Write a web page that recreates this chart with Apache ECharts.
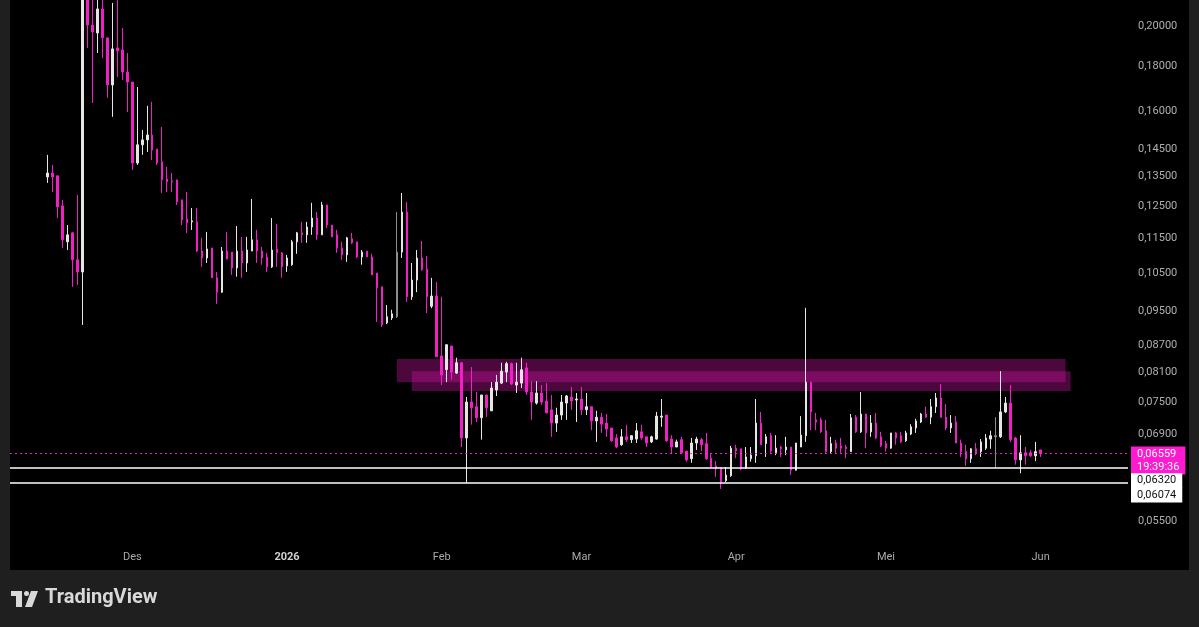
<!DOCTYPE html>
<html>
<head>
<meta charset="utf-8">
<title>Harian</title>
<script src="https://cdn.jsdelivr.net/npm/echarts@6/dist/echarts.min.js"></script>
<style>
  html, body { margin: 0; padding: 0; background: #1f1f1f; }
  #chart { width: 1199px; height: 627px; }
</style>
</head>
<body>
<div id="chart"></div>
<script>
// axis runs day by day, a week of empty space before the first candle
const axisStart = '2025-11-07'
const axisDays = 224
const firstCandle = '2025-11-14'

// [open, close, low, high], one per day from firstCandle
const candles = [
  [0.1349, 0.1363, 0.1328, 0.1429], [0.1363, 0.1349, 0.1297, 0.1392], [0.1353, 0.1248, 0.1212, 0.1353],
  [0.1251, 0.1145, 0.1121, 0.1271], [0.1139, 0.1160, 0.1115, 0.1190], [0.1166, 0.1087, 0.1013, 0.1169],
  [0.1087, 0.1053, 0.1018, 0.1287], [0.1053, 0.2160, 0.0917, 0.2255], [0.2150, 0.2005, 0.1889, 0.2226],
  [0.2005, 0.1969, 0.1636, 0.2169], [0.1964, 0.2091, 0.1864, 0.2169], [0.2091, 0.1939, 0.1840, 0.2140],
  [0.1939, 0.1715, 0.1658, 0.1939], [0.1715, 0.1884, 0.1578, 0.2124], [0.1889, 0.1874, 0.1751, 0.2140],
  [0.1879, 0.1774, 0.1737, 0.1990], [0.1774, 0.1728, 0.1598, 0.1864],
  // des
  [0.1728, 0.1399, 0.1374, 0.1728], [0.1399, 0.1467, 0.1392, 0.1706], [0.1467, 0.1486, 0.1429, 0.1525],
  [0.1486, 0.1505, 0.1440, 0.1624], [0.1505, 0.1447, 0.1410, 0.1641], [0.1451, 0.1399, 0.1392, 0.1451],
  [0.1403, 0.1339, 0.1294, 0.1537], [0.1342, 0.1332, 0.1297, 0.1385], [0.1335, 0.1332, 0.1297, 0.1363],
  [0.1339, 0.1264, 0.1254, 0.1339], [0.1271, 0.1206, 0.1190, 0.1271], [0.1209, 0.1197, 0.1166, 0.1297],
  [0.1200, 0.1203, 0.1175, 0.1244], [0.1200, 0.1112, 0.1109, 0.1244], [0.1112, 0.1092, 0.1067, 0.1151],
  [0.1092, 0.1118, 0.1078, 0.1169], [0.1121, 0.1037, 0.1037, 0.1121], [0.1037, 0.0999, 0.0969, 0.1053],
  [0.0999, 0.1112, 0.0997, 0.1124], [0.1112, 0.1089, 0.1089, 0.1169], [0.1109, 0.1064, 0.1045, 0.1109],
  [0.1064, 0.1112, 0.1040, 0.1187], [0.1112, 0.1078, 0.1037, 0.1154], [0.1078, 0.1115, 0.1053, 0.1154],
  [0.1112, 0.1145, 0.1112, 0.1274], [0.1145, 0.1112, 0.1078, 0.1175], [0.1112, 0.1092, 0.1073, 0.1124],
  [0.1095, 0.1067, 0.1053, 0.1107], [0.1067, 0.1115, 0.1064, 0.1212], [0.1118, 0.1107, 0.1067, 0.1194],
  [0.1107, 0.1067, 0.1037, 0.1109],
  // jan
  [0.1070, 0.1092, 0.1053, 0.1101], [0.1073, 0.1139, 0.1070, 0.1145], [0.1139, 0.1166, 0.1104, 0.1169],
  [0.1166, 0.1160, 0.1136, 0.1200], [0.1160, 0.1184, 0.1136, 0.1200], [0.1184, 0.1212, 0.1160, 0.1261],
  [0.1212, 0.1160, 0.1145, 0.1231], [0.1160, 0.1254, 0.1160, 0.1264], [0.1254, 0.1190, 0.1181, 0.1254],
  [0.1190, 0.1154, 0.1154, 0.1190], [0.1160, 0.1121, 0.1107, 0.1175], [0.1121, 0.1101, 0.1087, 0.1139],
  [0.1101, 0.1151, 0.1081, 0.1154], [0.1148, 0.1136, 0.1133, 0.1166], [0.1139, 0.1095, 0.1092, 0.1139],
  [0.1095, 0.1109, 0.1073, 0.1115], [0.1112, 0.1095, 0.1095, 0.1112], [0.1095, 0.1045, 0.1045, 0.1104],
  [0.1050, 0.1010, 0.0924, 0.1050], [0.1013, 0.0917, 0.0912, 0.1013], [0.0922, 0.0937, 0.0919, 0.0966],
  [0.0934, 0.0944, 0.0929, 0.0954], [0.0937, 0.1109, 0.0934, 0.1231], [0.1109, 0.1231, 0.1092, 0.1294],
  [0.1231, 0.0987, 0.0974, 0.1264], [0.0987, 0.1031, 0.0979, 0.1078], [0.1031, 0.1092, 0.0999, 0.1115],
  [0.1092, 0.1059, 0.1056, 0.1142], [0.1061, 0.0987, 0.0946, 0.1098], [0.0963, 0.0989, 0.0958, 0.1037],
  [0.0989, 0.0844, 0.0844, 0.1026],
  // feb
  [0.0846, 0.0805, 0.0784, 0.0987], [0.0816, 0.0871, 0.0790, 0.0871], [0.0868, 0.0811, 0.0795, 0.0868],
  [0.0809, 0.0831, 0.0807, 0.0842], [0.0831, 0.0683, 0.0667, 0.0831], [0.0683, 0.0750, 0.0607, 0.0760],
  [0.0750, 0.0739, 0.0707, 0.0822], [0.0741, 0.0720, 0.0712, 0.0770], [0.0720, 0.0764, 0.0680, 0.0764],
  [0.0764, 0.0739, 0.0721, 0.0764], [0.0733, 0.0778, 0.0733, 0.0790], [0.0774, 0.0790, 0.0762, 0.0805],
  [0.0788, 0.0813, 0.0786, 0.0831], [0.0811, 0.0829, 0.0790, 0.0833], [0.0829, 0.0786, 0.0784, 0.0831],
  [0.0784, 0.0790, 0.0768, 0.0831], [0.0788, 0.0816, 0.0778, 0.0842], [0.0820, 0.0770, 0.0764, 0.0831],
  [0.0770, 0.0750, 0.0716, 0.0792], [0.0748, 0.0768, 0.0745, 0.0792], [0.0768, 0.0750, 0.0745, 0.0784],
  [0.0752, 0.0729, 0.0729, 0.0788], [0.0735, 0.0710, 0.0685, 0.0764], [0.0710, 0.0725, 0.0694, 0.0739],
  [0.0725, 0.0750, 0.0716, 0.0764], [0.0748, 0.0762, 0.0716, 0.0764], [0.0760, 0.0752, 0.0735, 0.0780],
  [0.0754, 0.0756, 0.0712, 0.0768],
  // mar
  [0.0756, 0.0735, 0.0725, 0.0780], [0.0735, 0.0741, 0.0725, 0.0768], [0.0741, 0.0714, 0.0697, 0.0741],
  [0.0714, 0.0721, 0.0676, 0.0733], [0.0721, 0.0708, 0.0692, 0.0729], [0.0710, 0.0699, 0.0685, 0.0727],
  [0.0701, 0.0678, 0.0676, 0.0701], [0.0683, 0.0667, 0.0665, 0.0690], [0.0671, 0.0685, 0.0669, 0.0699],
  [0.0685, 0.0680, 0.0676, 0.0707], [0.0680, 0.0687, 0.0674, 0.0688], [0.0681, 0.0696, 0.0674, 0.0710],
  [0.0694, 0.0683, 0.0680, 0.0707], [0.0685, 0.0674, 0.0667, 0.0685], [0.0676, 0.0685, 0.0674, 0.0687],
  [0.0681, 0.0723, 0.0680, 0.0731], [0.0721, 0.0723, 0.0703, 0.0756], [0.0725, 0.0678, 0.0676, 0.0725],
  [0.0681, 0.0667, 0.0655, 0.0688], [0.0667, 0.0676, 0.0667, 0.0680], [0.0680, 0.0657, 0.0657, 0.0685],
  [0.0660, 0.0645, 0.0642, 0.0660], [0.0647, 0.0674, 0.0640, 0.0683], [0.0674, 0.0681, 0.0662, 0.0685],
  [0.0680, 0.0671, 0.0660, 0.0683], [0.0673, 0.0647, 0.0645, 0.0692], [0.0648, 0.0633, 0.0633, 0.0655],
  [0.0635, 0.0630, 0.0617, 0.0643], [0.0632, 0.0609, 0.0598, 0.0632], [0.0611, 0.0620, 0.0609, 0.0633],
  [0.0619, 0.0665, 0.0617, 0.0669],
  // apr
  [0.0665, 0.0660, 0.0648, 0.0671], [0.0664, 0.0630, 0.0628, 0.0664], [0.0632, 0.0650, 0.0630, 0.0667],
  [0.0647, 0.0653, 0.0642, 0.0667], [0.0652, 0.0710, 0.0640, 0.0756], [0.0710, 0.0671, 0.0671, 0.0731],
  [0.0673, 0.0685, 0.0650, 0.0690], [0.0687, 0.0660, 0.0657, 0.0692], [0.0657, 0.0665, 0.0653, 0.0688],
  [0.0667, 0.0664, 0.0650, 0.0669], [0.0662, 0.0667, 0.0653, 0.0685], [0.0667, 0.0628, 0.0620, 0.0667],
  [0.0628, 0.0674, 0.0627, 0.0674], [0.0667, 0.0688, 0.0667, 0.0723], [0.0687, 0.0790, 0.0676, 0.0959],
  [0.0790, 0.0731, 0.0697, 0.0790], [0.0716, 0.0712, 0.0697, 0.0729], [0.0716, 0.0694, 0.0692, 0.0720],
  [0.0696, 0.0659, 0.0657, 0.0716], [0.0659, 0.0673, 0.0655, 0.0685], [0.0674, 0.0665, 0.0655, 0.0680],
  [0.0669, 0.0665, 0.0657, 0.0683], [0.0667, 0.0664, 0.0648, 0.0671], [0.0659, 0.0720, 0.0659, 0.0727],
  [0.0721, 0.0694, 0.0692, 0.0725], [0.0694, 0.0727, 0.0692, 0.0770], [0.0727, 0.0692, 0.0665, 0.0727],
  [0.0694, 0.0710, 0.0685, 0.0725], [0.0710, 0.0683, 0.0681, 0.0729], [0.0685, 0.0669, 0.0667, 0.0694],
  // mei
  [0.0673, 0.0665, 0.0659, 0.0678], [0.0665, 0.0692, 0.0664, 0.0692], [0.0692, 0.0683, 0.0671, 0.0694],
  [0.0687, 0.0676, 0.0674, 0.0694], [0.0678, 0.0692, 0.0676, 0.0696], [0.0690, 0.0703, 0.0688, 0.0708],
  [0.0701, 0.0714, 0.0692, 0.0718], [0.0712, 0.0727, 0.0710, 0.0729], [0.0727, 0.0721, 0.0720, 0.0741],
  [0.0721, 0.0741, 0.0708, 0.0756], [0.0741, 0.0758, 0.0729, 0.0768], [0.0758, 0.0721, 0.0720, 0.0786],
  [0.0721, 0.0701, 0.0697, 0.0746], [0.0701, 0.0710, 0.0692, 0.0725], [0.0712, 0.0674, 0.0674, 0.0723],
  [0.0674, 0.0659, 0.0650, 0.0680], [0.0659, 0.0647, 0.0635, 0.0671], [0.0647, 0.0664, 0.0640, 0.0665],
  [0.0664, 0.0657, 0.0653, 0.0674], [0.0659, 0.0676, 0.0650, 0.0681], [0.0665, 0.0683, 0.0662, 0.0690],
  [0.0681, 0.0687, 0.0664, 0.0696], [0.0685, 0.0687, 0.0632, 0.0721], [0.0685, 0.0731, 0.0683, 0.0813],
  [0.0731, 0.0748, 0.0729, 0.0760], [0.0748, 0.0680, 0.0676, 0.0784], [0.0683, 0.0645, 0.0637, 0.0685],
  [0.0645, 0.0657, 0.0623, 0.0688], [0.0657, 0.0652, 0.0637, 0.0667], [0.0657, 0.0652, 0.0650, 0.0662],
  [0.0652, 0.0659, 0.0643, 0.0676],
  // jun
  [0.0662, 0.06559, 0.0650, 0.0662]
]
// candles drawn in grey instead of white
const greyDays = ['2026-01-23', '2026-05-23']

const tickDates = ['2025-12-01', '2026-01-01', '2026-02-01', '2026-03-01', '2026-04-01', '2026-05-01', '2026-06-01']
const tickNames = ['Des', '2026', 'Feb', 'Mar', 'Apr', 'Mei', 'Jun']
const priceTicks = [0.2, 0.18, 0.16, 0.145, 0.135, 0.125, 0.115, 0.105, 0.095, 0.087, 0.081, 0.075, 0.069, 0.055]

const lastPrice = 0.06559
const countdown = '19:39:36'
const supportLevels = [0.0632, 0.06074]

// two resistance boxes
const zoneFrom = ['2026-01-23', '2026-01-26']
const zoneTo = ['2026-06-06', '2026-06-07']
const zoneTop = [0.0839, 0.0813]
const zoneBottom = [0.0790, 0.0772]

const pink = '#f01fc6'
const white = '#e6e6e6'

function fmt(v) {
  return v.toFixed(5).replace('.', ',')
}

// day list for the category axis
const days = []
const t0 = Date.parse(axisStart + 'T00:00:00Z')
for (let i = 0; i < axisDays; i++) {
  days.push(new Date(t0 + i * 86400000).toISOString().slice(0, 10))
}
const offset = days.indexOf(firstCandle)
const seriesData = days.map((day, i) => {
  const c = candles[i - offset]
  if (!c) return '-'
  if (greyDays.indexOf(day) >= 0) {
    return { value: c, itemStyle: { color: '#8e8e8e', color0: '#8e8e8e', borderColor: '#8e8e8e', borderColor0: '#8e8e8e' } }
  }
  return c
})
const lastDay = days[days.length - 1]

const chart = echarts.init(document.getElementById('chart'))
const option = {
  animation: false,
  backgroundColor: '#000000',
  textStyle: { fontFamily: 'Roboto' },
  graphic: [
    { type: 'rect', left: 0, top: 570, shape: { width: 1199, height: 57 }, style: { fill: '#1f1f1f' } },
    { type: 'rect', left: 0, top: 0, shape: { width: 10, height: 570 }, style: { fill: '#1f1f1f' } },
    { type: 'rect', left: 1189, top: 0, shape: { width: 10, height: 570 }, style: { fill: '#1f1f1f' } },
    // logo
    { type: 'rect', left: 11, top: 591, shape: { width: 11, height: 5 }, style: { fill: '#d9d9d9' } },
    { type: 'rect', left: 16, top: 591, shape: { width: 6, height: 16 }, style: { fill: '#d9d9d9' } },
    { type: 'circle', left: 24, top: 591, shape: { r: 2.5 }, style: { fill: '#d9d9d9' } },
    { type: 'polygon', shape: { points: [[31, 591], [38, 591], [32, 607], [25, 607]] }, style: { fill: '#d9d9d9' } },
    { type: 'text', left: 45, top: 588, style: { text: 'TradingView', fill: '#d9d9d9', font: 'bold 20px Roboto' } }
  ],
  grid: { left: 10, right: 71, top: 0, bottom: 82 },
  xAxis: {
    type: 'category',
    data: days,
    boundaryGap: true,
    axisLine: { show: false },
    axisTick: { show: false },
    splitLine: { show: false },
    axisLabel: {
      margin: 7,
      color: '#a9a9a9',
      fontSize: 11,
      interval: (i, v) => tickDates.indexOf(v) >= 0,
      formatter: v => {
        const name = tickNames[tickDates.indexOf(v)]
        return name === '2026' ? '{b|2026}' : name
      },
      rich: { b: { fontWeight: 'bold', color: '#d0d0d0', fontSize: 11 } }
    }
  },
  yAxis: {
    type: 'log',
    logBase: 10,
    position: 'right',
    min: 0.05166,
    max: 0.21403,
    axisLine: { show: false },
    axisTick: { show: false },
    splitLine: { show: false },
    axisLabel: {
      customValues: priceTicks,
      margin: 10,
      align: 'left',
      color: '#b0b0b0',
      fontSize: 11,
      formatter: v => fmt(v)
    }
  },
  series: [{
    type: 'candlestick',
    data: seriesData,
    barWidth: 2,
    clip: true,
    itemStyle: {
      color: white,
      color0: pink,
      borderColor: white,
      borderColor0: pink,
      borderWidth: 1
    },
    markArea: {
      silent: true,
      itemStyle: { color: 'rgba(200, 20, 160, 0.38)' },
      data: zoneFrom.map((f, i) => [
        { xAxis: f, yAxis: zoneTop[i] },
        { xAxis: zoneTo[i], yAxis: zoneBottom[i] }
      ])
    },
    markLine: {
      silent: true,
      symbol: 'none',
      precision: 5,
      label: { show: false },
      data: [
        { yAxis: lastPrice, lineStyle: { color: '#ff2ad6', type: [2, 3], width: 1, opacity: 0.9 } },
        ...supportLevels.map(v => ({ yAxis: v, lineStyle: { color: '#ffffff', type: 'solid', width: 1.5 } }))
      ]
    },
    markPoint: {
      silent: true,
      symbol: 'circle',
      symbolSize: 1,
      itemStyle: { color: 'rgba(0,0,0,0)' },
      label: {
        show: true,
        position: 'right',
        distance: 5,
        fontSize: 11,
        lineHeight: 13,
        padding: [1, 6, 1, 6]
      },
      data: [
        {
          coord: [lastDay, lastPrice],
          label: {
            formatter: fmt(lastPrice) + '\n' + countdown,
            color: '#ffffff',
            backgroundColor: '#ff19d1',
            offset: [0, 7]
          }
        },
        {
          coord: [lastDay, supportLevels[0]],
          label: { formatter: fmt(supportLevels[0]), color: '#111111', backgroundColor: '#ffffff', offset: [0, 13] }
        },
        {
          coord: [lastDay, supportLevels[1]],
          label: { formatter: fmt(supportLevels[1]), color: '#111111', backgroundColor: '#ffffff', offset: [0, 12] }
        }
      ]
    }
  }]
}
chart.setOption(option)
</script>
</body>
</html>
